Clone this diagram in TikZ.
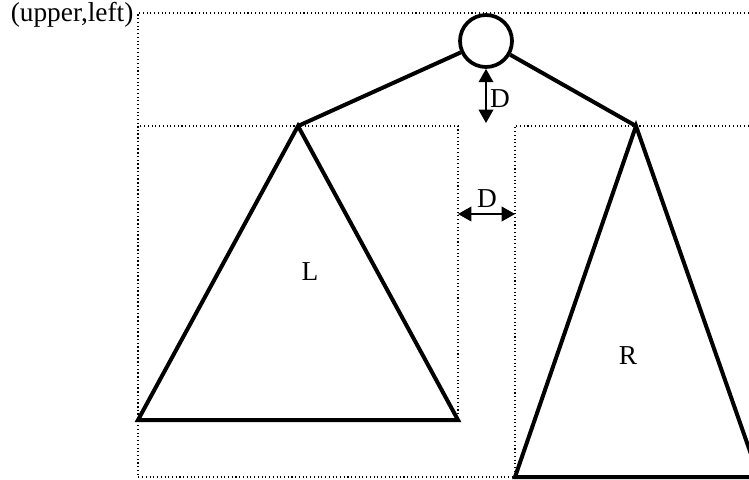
\documentclass[tikz,border=0pt]{standalone}
\usepackage{fontspec}
\setmainfont{Liberation Serif}
\usetikzlibrary{arrows.meta}

\begin{document}
\begin{tikzpicture}[x=0.75pt, y=-0.75pt,
    region/.style={dotted, line width=0.8pt},
    subtree/.style={line width=3pt, line join=miter},
    edge/.style={line width=3pt},
    gap/.style={{Triangle[length=10pt,width=11pt]}-{Triangle[length=10pt,width=11pt]},
                line width=1.2pt},
    label/.style={font=\fontsize{20.5}{24}\selectfont, inner sep=1pt},
]
    \useasboundingbox (0,0) rectangle (749,479);
    \clip (0,0) rectangle (749,479);

    % dotted regions
    \draw[region] (760,13) -- (138,13) -- (138,477) -- (515,477);
    \draw[region] (138,126) rectangle (458,420);
    \draw[region] (760,126) -- (515,126) -- (515,477);
    \node[label, anchor=east] (corner) at (135,15) {(upper,left)};

    % root and subtrees
    \node[draw, circle, line width=2.8pt, inner sep=0pt, minimum size=39pt,
          fill=white] (root) at (486,41) {};
    \coordinate (lapex) at (298,126);
    \coordinate (lleft) at (138,420);
    \coordinate (lright) at (458,420);
    \coordinate (rapex) at (636,126);
    \coordinate (rleft) at (515,477);
    \coordinate (rright) at (759,477);
    \draw[subtree] (lapex) -- (lleft) -- (lright) -- cycle;
    \draw[subtree] (rapex) -- (rleft) -- (rright) -- cycle;
    \draw[edge] (root) -- (lapex);
    \draw[edge] (root) -- (rapex);
    \node[label] (lname) at (310,272) {L};
    \node[label] (rname) at (628,356) {R};

    % distances
    \coordinate (vbot) at (486,123);
    \draw[gap] (root.south) -- (vbot);
    \node[label] (vgap) at (500,99) {D};
    \coordinate (hleft) at (458,214);
    \coordinate (hright) at (515,214);
    \draw[gap] (hleft) -- (hright);
    \node[label] (hgap) at (487,199) {D};
\end{tikzpicture}
\end{document}
